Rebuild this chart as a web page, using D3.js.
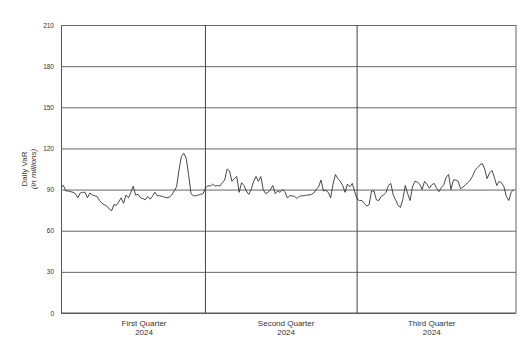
<!DOCTYPE html>
<html>
<head>
<meta charset="utf-8">
<script src="https://cdn.jsdelivr.net/npm/d3@7"></script>
<style>
  body { margin: 0; background: #fff; }
  svg text { font-family: "Liberation Sans", Arial, sans-serif; fill: #333; }
</style>
</head>
<body>
<div id="chart"></div>
<script>

  // daily VaR, one value per trading day, by quarter
  var q1Values = [92, 93, 89, 89, 88.5, 88, 87, 84, 87.5, 88,
                  88, 84, 87.5, 86, 85.5, 85, 82, 80, 79, 78,
                  76, 74.5, 79, 78.5, 81, 84, 80, 86, 84, 88,
                  92.5, 86, 86.5, 84, 83.5, 82.5, 85, 83, 85, 88,
                  85.5, 85.5, 85, 84.5, 84, 84.5, 86, 89, 92, 104,
                  114, 116.5, 113, 101, 87, 85.5, 85.5, 86, 86.5, 87];

  var q2Values = [91, 93, 92.5, 94, 92.5, 93, 92.5, 95, 97, 105,
                  103.5, 96, 98, 99.5, 88, 95, 93, 89, 86.5, 90,
                  96, 99.5, 96, 99.5, 90, 87, 88, 90, 93, 87,
                  89, 88, 90, 88.5, 84, 85.5, 85.5, 85, 83.5, 85,
                  85.5, 85.5, 86, 86, 86.5, 87.5, 90, 92, 97, 89,
                  89.5, 88, 84, 94, 101, 98, 96, 93, 88, 94,
                  92, 94.5, 88.5];

  var q3Values = [83, 82, 82, 80, 78, 79, 89, 89, 82.5, 82,
                  85, 86, 88, 93, 94.5, 86, 82.5, 78.5, 77, 83,
                  93, 87, 82, 92, 96, 95.5, 94, 90, 96, 94,
                  91, 93.5, 94.5, 91, 88.5, 91.5, 93.5, 99, 101, 90,
                  97, 97, 96, 90.5, 92, 93.5, 95, 97, 100, 104,
                  106, 108, 109, 105, 98, 102, 104, 99, 93, 96,
                  95, 92, 85, 82, 88, 90];

  var quarterLabels = ["First Quarter", "Second Quarter", "Third Quarter"];
  var yearLabel = "2024";
  var quarterLabelAt = [34.5, 93.5, 154];   // day index where each label sits
  var yTicks = [0, 30, 60, 90, 120, 150, 180, 210];

  var width = 532,
      height = 351,
      margin = {top: 25, right: 16, bottom: 38, left: 61},
      chartWidth = width - margin.left - margin.right,
      chartHeight = height - margin.top - margin.bottom;

  var quarters = [q1Values, q2Values, q3Values];
  var data = [];
  var bounds = [];
  quarters.forEach(function(q){
    bounds.push(data.length);
    q.forEach(function(v){ data.push({x: data.length, y: v}); });
  });

  var svg = d3.select('#chart').append('svg')
      .attr('width', width)
      .attr('height', height);

  var chart = svg.append('g')
      .attr('transform', 'translate(' + margin.left + ',' + margin.top + ')');

  var x = d3.scaleLinear()
      .domain([0, data.length])
      .range([0, chartWidth]);

  var y = d3.scaleLinear()
      .domain([0, 210])
      .range([chartHeight, 0]);

  // horizontal grid
  var yAxis = d3.axisLeft(y)
    .tickValues(yTicks)
    .tickSize(-chartWidth)
    .tickPadding(7)
    .tickSizeOuter(0);

  var gy = chart.append('g')
      .attr('class', 'yAxis')
      .call(yAxis);

  gy.select('.domain').attr('stroke', '#555');
  gy.selectAll('.tick line').attr('stroke', '#666').attr('stroke-width', 1);
  gy.selectAll('.tick text')
    .attr('font-size', 6.5)
    .attr('fill', '#444')
    .style('font-family', '"Liberation Sans", Arial, sans-serif');

  // frame: bottom + right
  chart.append('line')
    .attr('x1', 0).attr('x2', chartWidth)
    .attr('y1', chartHeight).attr('y2', chartHeight)
    .attr('stroke', '#555');

  chart.append('line')
    .attr('x1', chartWidth).attr('x2', chartWidth)
    .attr('y1', 0).attr('y2', chartHeight)
    .attr('stroke', '#666');

  // quarter dividers
  chart.selectAll('line.divider')
    .data(bounds.slice(1))
    .enter().append('line')
    .attr('class', 'divider')
    .attr('x1', function(d){ return x(d); })
    .attr('x2', function(d){ return x(d); })
    .attr('y1', 0).attr('y2', chartHeight)
    .attr('stroke', '#444');

  var line = d3.line()
      .x(function(d){ return x(d.x); })
      .y(function(d){ return y(d.y); });

  chart.append('path')
    .datum(data)
    .attr('fill', 'none')
    .attr('stroke', '#333')
    .attr('stroke-width', 0.9)
    .attr('d', line);

  // quarter labels
  var ql = chart.selectAll('text.quarter')
    .data(quarterLabels)
    .enter().append('text')
    .attr('class', 'quarter')
    .attr('text-anchor', 'middle')
    .attr('font-size', 8)
    .attr('transform', function(d, i){ return 'translate(' + x(quarterLabelAt[i]) + ',' + (chartHeight + 13) + ')'; });

  ql.append('tspan').attr('x', 0).attr('y', 0).text(function(d){ return d; });
  ql.append('tspan').attr('x', 0).attr('y', 9).text(yearLabel);

  // y label
  var yl = svg.append('text')
    .attr('text-anchor', 'middle')
    .attr('font-size', 8)
    .attr('transform', 'translate(27,' + (margin.top + chartHeight / 2) + ') rotate(-90)');

  yl.append('tspan').attr('x', 0).attr('y', 0).text('Daily VaR');
  yl.append('tspan').attr('x', 0).attr('y', 8.5).attr('font-style', 'italic').text('(in millions)');

</script>
</body>
</html>
